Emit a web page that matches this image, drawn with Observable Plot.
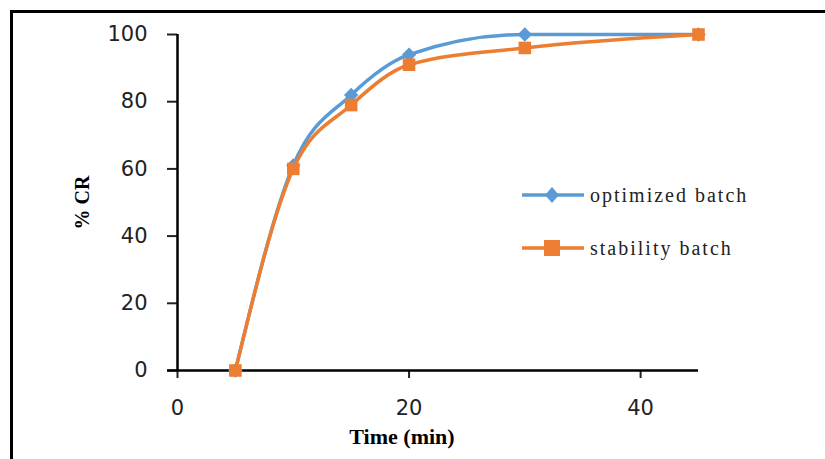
<!DOCTYPE html>
<html>
<head>
<meta charset="utf-8">
<script src="https://cdn.jsdelivr.net/npm/d3@7"></script>
<script src="https://cdn.jsdelivr.net/npm/@observablehq/plot@0.6"></script>
<style>
  html, body { margin: 0; padding: 0; background: #fff; overflow: hidden; }
  #wrap { position: relative; width: 825px; height: 459px; overflow: hidden; }
  #frame { position: absolute; left: 10px; top: 10px; width: 900px; height: 600px; border: 3px solid #000; box-sizing: border-box; pointer-events: none; }
  #legend { position: absolute; left: 522px; top: 180px; font-family: "Liberation Serif", serif; font-size: 20px; letter-spacing: 2px; color: #222; }
  .item { display: flex; align-items: center; height: 30px; margin-bottom: 23px; white-space: nowrap; }
  .item svg { margin-right: 6px; }
</style>
</head>
<body>
<div id="wrap">
  <div id="chart"></div>
  <div id="legend"></div>
  <div id="frame"></div>
</div>
<script>
const time = [5, 10, 15, 20, 30, 45];
const optimized = [0, 61, 82, 94, 100, 100];
const stability = [0, 60, 79, 91, 96, 100];
const seriesNames = ["optimized batch", "stability batch"];
const colors = ["#5B9BD5", "#ED7D31"];
const xTicks = [0, 20, 40];
const yTicks = [0, 20, 40, 60, 80, 100];

const rows = [];
time.forEach((t, i) => rows.push({t, v: optimized[i], s: seriesNames[0]}));
time.forEach((t, i) => rows.push({t, v: stability[i], s: seriesNames[1]}));
const optRows = rows.filter(d => d.s === seriesNames[0]);
const stbRows = rows.filter(d => d.s === seriesNames[1]);

const chart = Plot.plot({
  width: 825,
  height: 459,
  marginLeft: 177,
  marginTop: 34,
  marginBottom: 89,
  marginRight: 127,
  style: { fontFamily: "DejaVu Sans", fontSize: "21px", color: "#222", background: "transparent" },
  x: { domain: [0, 45], ticks: xTicks },
  y: { domain: [0, 100], ticks: yTicks },
  marks: [
    Plot.axisY({ ticks: yTicks, tickSize: 10, tickPadding: 20, label: null, strokeWidth: 2, fontSize: 21 }),
    Plot.axisX({ ticks: xTicks, tickSize: 8, tickPadding: 22, label: null, strokeWidth: 2, fontSize: 21 }),
    Plot.ruleY([0], { x1: 0, x2: 45, stroke: "#000", strokeWidth: 2.5, insetLeft: -10 }),
    Plot.ruleX([0], { y1: 0, y2: 100, stroke: "#000", strokeWidth: 2.5 }),
    Plot.line(optRows, { x: "t", y: "v", stroke: colors[0], strokeWidth: 3.5, curve: "monotone-x" }),
    Plot.dot(optRows, { x: "t", y: "v", symbol: "diamond2", fill: colors[0], r: 6.5, stroke: "none" }),
    Plot.line(stbRows, { x: "t", y: "v", stroke: colors[1], strokeWidth: 3.5, curve: "monotone-x" }),
    Plot.dot(stbRows, { x: "t", y: "v", symbol: "square2", fill: colors[1], r: 8, stroke: "none" }),
    Plot.text(["Time (min)"], { frameAnchor: "bottom", dx: -36, dy: 73, fontFamily: "Liberation Serif", fontWeight: "bold", fontSize: 22, fill: "#000", letterSpacing: 1.8 }),
    Plot.text(["% CR"], { frameAnchor: "left", textAnchor: "middle", dx: -95, rotate: -90, fontFamily: "Liberation Serif", fontWeight: "bold", fontSize: 20, fill: "#000", letterSpacing: 1.5 })
  ]
});
document.getElementById("chart").appendChild(chart);

const legend = document.getElementById("legend");
const shapes = [
  '<polygon points="30,7 37,15 30,23 23,15" fill="' + colors[0] + '"/>',
  '<rect x="22" y="7" width="16" height="16" fill="' + colors[1] + '"/>'
];
seriesNames.forEach((name, i) => {
  const div = document.createElement("div");
  div.className = "item";
  div.innerHTML = '<svg width="62" height="30"><line x1="0" y1="15" x2="62" y2="15" stroke="' + colors[i] + '" stroke-width="3.5"/>' + shapes[i] + '</svg><span>' + name + '</span>';
  legend.appendChild(div);
});
</script>
</body>
</html>
